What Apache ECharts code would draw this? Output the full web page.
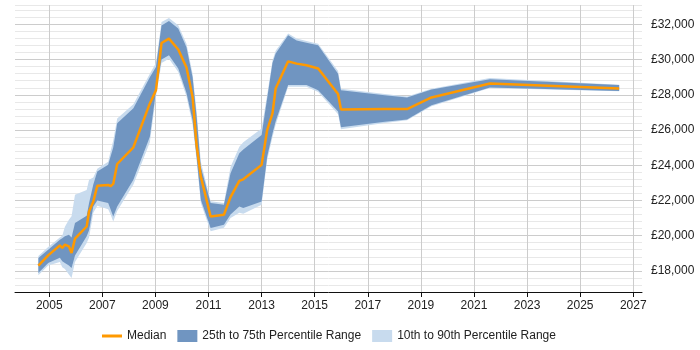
<!DOCTYPE html>
<html>
<head>
<meta charset="utf-8">
<script src="https://cdn.jsdelivr.net/npm/echarts@6/dist/echarts.min.js"></script>
<style>
  html, body { margin: 0; padding: 0; background: #fff; }
  #main { width: 700px; height: 350px; }
</style>
</head>
<body>
<div id="main"></div>
<script>
// decimal years of each sample
var years = [2004.59, 2004.96, 2005.40, 2005.49, 2005.59, 2005.74, 2005.84, 2005.97, 2006.41, 2006.50,
  2006.66, 2006.81, 2007.22, 2007.31, 2007.41, 2007.56, 2008.17, 2008.79, 2009.02, 2009.23,
  2009.51, 2009.86, 2010.17, 2010.40, 2010.55, 2010.71, 2011.08, 2011.58, 2011.83, 2012.16,
  2012.31, 2013.00, 2013.21, 2013.41, 2013.53, 2014.00, 2014.32, 2014.69, 2015.13, 2015.88,
  2015.99, 2017.64, 2018.48, 2019.40, 2021.60, 2026.47];
var p10 = [17750, 18300, 18500, 18200, 18100, 17800, 17600, 18500, 19580, 19900,
  21300, 21700, 21500, 21200, 20810, 21400, 22900, 25300, 27900, 29800,
  30050, 29300, 27900, 26300, 24300, 21850, 20250, 20450, 21000, 21300,
  21250, 21750, 24300, 25600, 26300, 28450, 28450, 28450, 28160, 26900,
  26050, 26400, 26550, 27350, 28380, 28200];
var p25 = [17880, 18450, 18750, 18540, 18450, 18300, 18170, 18880, 19960, 20300,
  21660, 22000, 21850, 21500, 21090, 21660, 23170, 25620, 28200, 30000,
  30240, 29490, 28100, 26560, 24490, 22040, 20430, 20620, 21200, 21660,
  21570, 21940, 24500, 25800, 26500, 28550, 28550, 28550, 28260, 27050,
  26150, 26470, 26600, 27410, 28420, 28220];
var median = [18300, 18880, 19450, 19300, 19490, 19390, 19020, 19830, 20520, 21370,
  21940, 22830, 22880, 22810, 22940, 24070, 25020, 27510, 28260, 30940,
  31190, 30570, 29550, 27880, 25150, 23350, 21090, 21190, 22190, 23110,
  23200, 24020, 26000, 26940, 28360, 29900, 29770, 29680, 29490, 28040,
  27170, 27200, 27190, 27850, 28640, 28360];
var p75 = [18730, 19200, 19770, 19850, 19960, 20050, 19900, 20720, 21130, 21850,
  22900, 23640, 24020, 24500, 25000, 26380, 27230, 29000, 29580, 31940,
  32190, 31760, 30700, 29000, 26800, 23900, 21850, 21760, 23550, 24680,
  24900, 25720, 27800, 29800, 30340, 31380, 31090, 30950, 30810, 29200,
  28260, 27980, 27850, 28300, 28890, 28550];
var p90 = [18850, 19350, 19900, 20000, 20500, 20900, 21100, 22320, 22600, 23170,
  23300, 23800, 24200, 24800, 25400, 26660, 27470, 29200, 29800, 32130,
  32360, 31950, 30900, 29200, 27100, 24200, 21950, 21850, 23900, 25050,
  25300, 26090, 28000, 29950, 30500, 31480, 31200, 31050, 30900, 29350,
  28350, 28050, 27900, 28350, 28950, 28570];
var xTicks = [2005, 2007, 2009, 2011, 2013, 2015, 2017, 2019, 2021, 2023, 2025, 2027];
var yTicks = [18000, 20000, 22000, 24000, 26000, 28000, 30000, 32000];

var names = {
  median: 'Median',
  mid: '25th to 75th Percentile Range',
  wide: '10th to 90th Percentile Range'
};

// band series: one polygon from the lower edge forward and the upper edge back
function band(name, lo, hi, color, z) {
  var rows = years.map(function (y, i) { return [y, lo[i], hi[i]]; });
  return {
    name: name,
    type: 'custom',
    silent: true,
    z: z,
    itemStyle: { color: color },
    data: rows,
    encode: { x: 0, y: [1, 2] },
    renderItem: function (params, api) {
      if (params.dataIndex !== 0) return null;
      var pts = [];
      rows.forEach(function (r) { pts.push(api.coord([r[0], r[1]])); });
      for (var i = rows.length - 1; i >= 0; i--) {
        pts.push(api.coord([rows[i][0], rows[i][2]]));
      }
      return {
        type: 'polygon',
        shape: { points: pts },
        style: { fill: color }
      };
    }
  };
}

var chart = echarts.init(document.getElementById('main'));
var option = {
  animation: false,
  textStyle: { fontFamily: 'Liberation Sans, Arial, sans-serif' },
  grid: { left: 15, right: 58, top: 5, bottom: 58 },
  legend: {
    bottom: 3,
    left: 97,
    itemWidth: 20,
    itemHeight: 12,
    itemGap: 11,
    textStyle: { fontSize: 12, color: '#222' },
    data: [
      { name: names.median, icon: 'path://M0,0 L20,0 L20,3 L0,3 Z', itemStyle: { color: '#ff9900' } },
      { name: names.mid, icon: 'rect', itemStyle: { color: '#7095c1' } },
      { name: names.wide, icon: 'rect', itemStyle: { color: '#c8dbee' } }
    ]
  },
  xAxis: {
    type: 'value',
    min: 2003.71,
    max: 2027.33,
    axisLine: { lineStyle: { color: '#111' } },
    axisTick: { customValues: xTicks, length: 5, lineStyle: { color: '#111' } },
    axisLabel: {
      customValues: xTicks,
      color: '#222',
      fontSize: 12,
      margin: 8,
      formatter: function (v) { return String(v); }
    },
    splitLine: { show: true, lineStyle: { color: '#ccc' } }
  },
  yAxis: [
    {
      type: 'value',
      position: 'right',
      min: 16800,
      max: 33100,
      interval: 400,
      axisLine: { show: false },
      axisTick: { show: false },
      axisLabel: { show: false },
      splitLine: { lineStyle: { color: '#e8e8e8' } }
    },
    {
      type: 'value',
      position: 'right',
      min: 16800,
      max: 33100,
      axisLine: { show: false },
      axisTick: { show: false, customValues: yTicks },
      axisLabel: {
        customValues: yTicks,
        color: '#222',
        fontSize: 12,
        margin: 9,
        formatter: function (v) { return '£' + v.toLocaleString('en-GB'); }
      },
      splitLine: { lineStyle: { color: '#ccc' } }
    }
  ],
  series: [
    band(names.wide, p10, p90, '#c8dbee', 2),
    band(names.mid, p25, p75, '#7095c1', 3),
    {
      name: names.median,
      type: 'line',
      data: median.map(function (v, i) { return [years[i], v]; }),
      symbol: 'none',
      itemStyle: { color: '#ff9900' },
      lineStyle: { color: '#ff9900', width: 2.5 },
      z: 5
    }
  ]
};
chart.setOption(option);
</script>
</body>
</html>
